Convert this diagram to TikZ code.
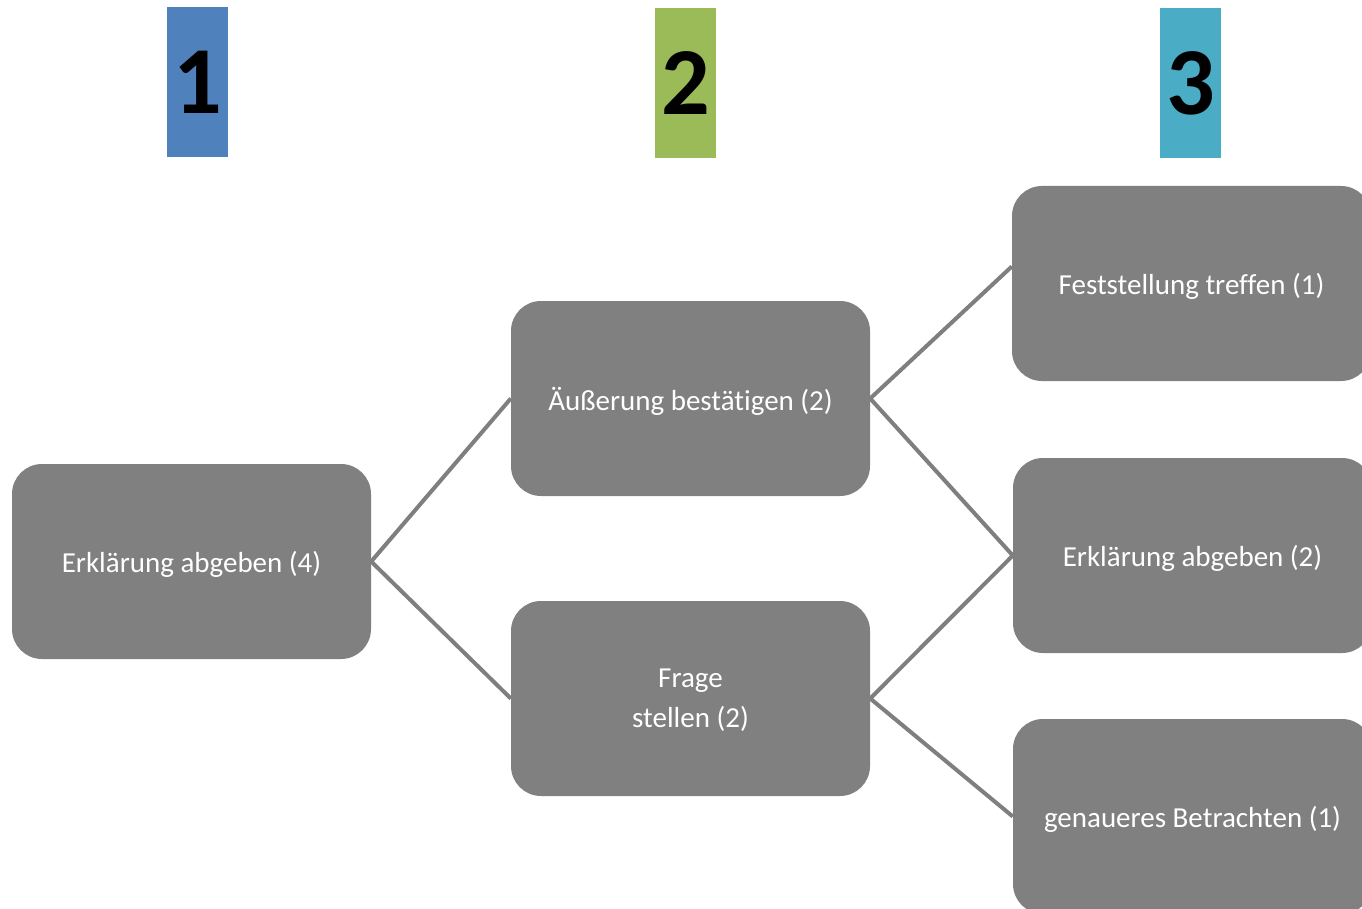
\documentclass[tikz,border=0pt]{standalone}
\usepackage{fontspec}
\setmainfont{Carlito}[Ligatures=NoCommon]
\usepackage{xcolor}
\usepackage{tikz}
\usetikzlibrary{positioning}

\definecolor{boxgray}{HTML}{808080}
\definecolor{linegray}{HTML}{7F7F7F}
\definecolor{stepone}{HTML}{4F81BD}
\definecolor{steptwo}{HTML}{9BBB59}
\definecolor{stepthree}{HTML}{4BACC6}

\tikzset{
  actbox/.style={fill=boxgray, rounded corners=30pt, minimum width=359pt, minimum height=195pt,
    inner sep=0pt, text depth=0pt, text=white, align=center, font=\fontsize{29}{40}\selectfont},
  numbox/.style={minimum width=61pt, minimum height=150pt, inner sep=0pt,
    font=\fontsize{96}{96}\selectfont\bfseries},
  link/.style={linegray, line width=4pt}
}

\begin{document}
\begin{tikzpicture}[x=1pt, y=-1pt]
\useasboundingbox (0,0) rectangle (1362,909);
\clip (0,0) rectangle (1362,909);
\node[numbox, fill=stepone] (one) at (197.5,82) {1};
\node[numbox, fill=steptwo] (two) at (685.5,83) {2};
\node[numbox, fill=stepthree] (three) at (1190.5,83) {3};
\node[actbox] (erkl) at (191.5,561.5) {Erklärung abgeben (4)};
\node[actbox] (aeuss) at (690.5,398.5) {Äußerung bestätigen (2)};
\node[actbox] (frage) at (690.5,698.5) {Frage\\stellen (2)};
\node[actbox] (fest) at (1191.5,283.5) {Feststellung treffen (1)};
\node[actbox] (erkltwo) at (1192.5,555.5) {Erklärung abgeben (2)};
\node[actbox] (genau) at (1192.5,816.5) {genaueres Betrachten (1)};
\draw[link] (erkl.east) -- (aeuss.west);
\draw[link] (erkl.east) -- (frage.west);
\draw[link] (aeuss.east) -- ([yshift=17pt]fest.west);
\draw[link] (aeuss.east) -- (erkltwo.west);
\draw[link] (frage.east) -- (erkltwo.west);
\draw[link] (frage.east) -- (genau.west);
\end{tikzpicture}
\end{document}
